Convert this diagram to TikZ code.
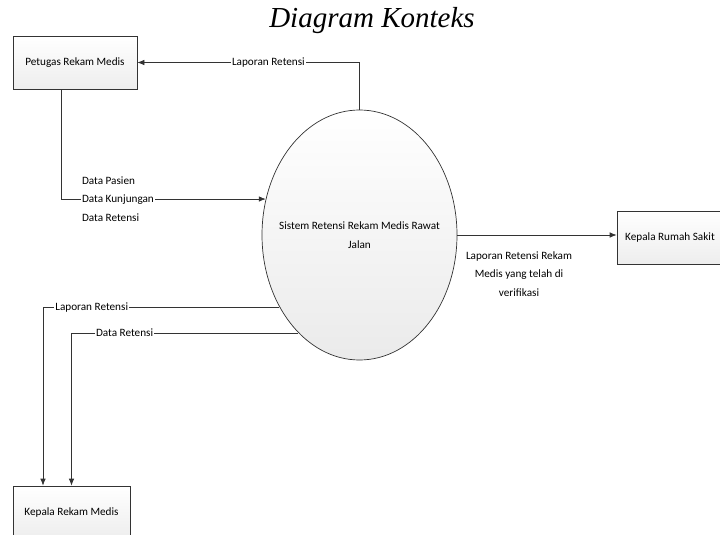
\documentclass[tikz,border=0pt]{standalone}
\usepackage{fontspec}
\setmainfont{Carlito}
\newfontfamily\titlefont{Liberation Serif}
\usetikzlibrary{arrows.meta,shapes.geometric}

\begin{document}
\begin{tikzpicture}[x=1pt, y=-1pt, font=\fontsize{11.2}{18.5}\selectfont,
		entity/.style={draw=black!80, line width=0.7pt, top color=white, bottom color=black!7, rectangle, minimum width=124pt, minimum height=53pt, inner sep=0pt},
		process/.style={draw=black!80, line width=0.7pt, top color=white, bottom color=black!8, ellipse, minimum width=195pt, minimum height=250pt, inner xsep=-30pt, inner ysep=0pt, align=center},
		flow/.style={draw=black!80, line width=0.7pt, -{Latex[length=7pt, width=5.5pt]}},
		lbl/.style={fill=white, inner sep=1pt}]
		\useasboundingbox (0,0) rectangle (720,535);
		
		\node[font=\titlefont\itshape\fontsize{29}{32}\selectfont] (title) at (372,21) {Diagram Konteks};
		
		% entitas luar dan proses
		\node[entity] (petugas) at (75,62.5) {Petugas Rekam Medis};
		\node[process] (sistem) at (359.5,235) {Sistem Retensi Rekam Medis Rawat\\Jalan};
		\node[entity, minimum width=106pt] (rumahsakit) at (670,237.5) {Kepala Rumah Sakit};
		\node[entity, minimum width=117pt] (rekammedis) at (71.5,512.5) {Kepala Rekam Medis};
		
		\draw[flow] (sistem.north) |- (petugas.east) node[lbl, pos=0.705] {Laporan Retensi};
		
		\draw[flow] ([xshift=-14pt]petugas.south) |- (sistem.159.5) node[lbl, pos=0.639, align=left] {Data Pasien\\Data Kunjungan\\Data Retensi};
		
		\draw[flow] (sistem.east) -- (sistem.east -| rumahsakit.west);
		\node[align=center, anchor=north] (lapverif) at (519,248) {Laporan Retensi Rekam\\Medis yang telah di\\verifikasi};
		
		\draw[flow] (sistem.222.7) -| ([xshift=-28.5pt]rekammedis.north) node[lbl, pos=0.397] {Laporan Retensi};
		\draw[flow] (sistem.238.3) -| (rekammedis.north) node[lbl, pos=0.383] {Data Retensi};
	\end{tikzpicture}
\end{document}
